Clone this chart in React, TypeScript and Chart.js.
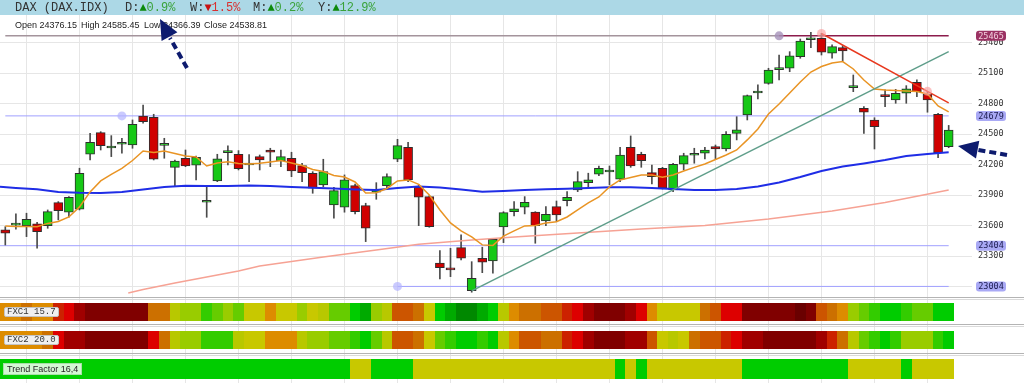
import React, { useEffect, useRef } from "react";
import { Chart, registerables } from "chart.js";

Chart.register(...registerables);

// ---------- data ----------
const opens = [23559,23606,23601,23618,23601,23827,23733,23762,24302,24514, 24364,24400,24393,24678,24665,24390,24174,24263,24194,23831, 24040,24318,24302,24197,24279,24344,24236,24263,24190,24116, 24001,23804,23782,23994,23797,23929,23994,24253,24371,23978, 23886,23232,23183,23385,22963,23281,23254,23588,23738,23782, 23733,23647,23788,23847,23952,24023,24106,24128,24057,24371, 24302,24122,24165,23952,24204,24292,24312,24377,24354,24508, 24688,24904,24999,25133,25147,25261,25427,25441,25294,25349, 24957,24754,24639,24884,24835,24901,25008,24894,24695,24376.15];
const highs = [23591,23716,23723,23634,23755,23837,23886,24165,24508,24524, 24485,24459,24639,24786,24695,24459,24246,24344,24285,23984, 24302,24384,24338,24300,24295,24361,24344,24322,24214,24131, 24253,23978,24099,24010,23821,24023,24109,24449,24420,24001, 23896,23356,23379,23510,23247,23389,23477,23738,23837,23886, 23738,23788,23843,23935,24131,24116,24187,24187,24371,24482, 24322,24197,24174,24214,24312,24361,24371,24393,24524,24671, 24884,24983,25147,25277,25310,25434,25500,25490,25376,25369, 25081,24770,24661,24934,24940,24976,25032,24917,24705,24585.45];
const lows = [23411,23566,23493,23379,23575,23657,23683,23755,24246,24344, 24279,24312,24361,24607,24246,24263,23991,24180,24050,23683, 24033,24197,24148,24033,24148,24180,24180,24082,24033,23919, 23984,23674,23733,23716,23444,23860,23958,24229,24033,23601, 23585,23078,23100,23264,22947,23139,23134,23434,23696,23716, 23428,23601,23640,23795,23935,23978,24092,24001,24033,24174, 24174,24010,23961,23935,24148,24214,24256,24253,24334,24443, 24639,24845,24990,25032,25113,25245,25349,25277,25245,25218, 24917,24508,24354,24770,24803,24803,24868,24715,24269,24366.39];
const closes = [23526,23610,23664,23542,23738,23748,23880,24116,24420,24387, 24377,24406,24597,24622,24253,24400,24236,24187,24273,23837, 24256,24332,24161,24207,24246,24322,24279,24138,24121,23968, 24131,23945,24050,23738,23575,23958,24082,24387,24050,23880, 23591,23189,23166,23281,23084,23242,23467,23729,23765,23831, 23601,23713,23706,23880,24033,24050,24165,24134,24295,24187, 24239,24082,23968,24204,24288,24298,24344,24354,24498,24541, 24878,24911,25130,25140,25270,25415,25434,25304,25359,25317, 24963,24715,24573,24868,24901,24944,24917,24835,24318,24538.81];

// short moving average (orange), one value per candle
const fastMA = [23598,23593,23593,23591,23623,23642,23686,23785,23932,24040, 24104,24163,24241,24334,24320,24334,24310,24285,24276,24187, 24217,24229,24212,24207,24214,24227,24241,24217,24192,24153, 24133,24094,24079,24030,23922,23925,23966,24040,24050,24006, 23902,23755,23628,23549,23490,23412,23407,23498,23549,23598, 23603,23627,23640,23686,23755,23824,23883,23981,24050,24074, 24099,24099,24076,24099,24138,24173,24207,24251,24295,24344, 24443,24551,24698,24796,24904,25012,25110,25164,25199,25213, 25140,25032,24943,24934,24929,24924,24919,24894,24776,24718];

// medium moving average (blue), read at these candle positions
const midMAIdx = [-0.5,1,3,5,7,9,11,13,15,17,19,21,23,25,27,29,31,33,35,37,39,41,43,45,47,49,51,53,55,57,59,61,63,65,67,69,71,73,75,77,79,81,83,85,87,89];
const midMAVals = [23984,23971,23958,23932,23924,23922,23932,23957,23981,23993,23991,23991,23996,23991,23981,23974,23966,23957,23952,23971,23986,23976,23957,23935,23942,23952,23958,23963,23971,23978,23978,23971,23961,23952,23952,23961,23986,24025,24079,24138,24182,24212,24246,24285,24305,24322];

// long moving average (salmon)
const slowMAIdx = [11.6,13,16,20,22,24,30,35,39,44,48,54,60,66,72,78,83,89];
const slowMAVals = [22940,22974,23038,23117,23156,23205,23294,23362,23418,23461,23490,23529,23569,23603,23667,23745,23829,23952];

// horizontal levels
const levelTop = 25465;
const levelMid = 24679;
const levelLow1 = 23404;
const levelLow2 = 23004;

// trend lines [index, value]
const upTrendIdx = [44, 89];
const upTrendVals = [22960, 25310];
const downTrendIdx = [77, 87, 89];
const downTrendVals = [25488, 24920, 24806];

// axis ticks
const yTickValues = [23000, 23300, 23600, 23900, 24200, 24500, 24800, 25100, 25400];
const xGridIdx = [2, 7, 12, 17, 22, 27, 32, 37, 42, 47, 52, 57, 62, 67, 72, 77, 82, 87];

// indicator bands: level index into palette, one per candle
const fxc1Levels = [7,7,6,7,7,4,3,2,1,1, 1,1,1,1,6,6,9,10,10,12, 11,10,11,8,8,7,8,8,10,8, 9,11,11,13,14,10,9,5,5,6, 8,13,14,15,15,14,13,9,7,6, 6,5,5,4,3,2,1,1,1,2, 3,7,8,8,8,8,6,5,3,3, 1,1,1,1,1,0,1,5,6,7, 10,11,12,13,13,12,11,11,13,13];
const fxc2Levels = [7,7,7,7,6,3,2,2,1,1, 1,1,1,1,3,6,9,10,10,12, 12,12,9,8,8,7,7,7,9,10, 10,11,11,12,13,11,9,5,5,6, 8,11,12,13,13,12,13,9,7,5, 5,6,6,4,3,2,1,1,1,2, 2,5,8,9,8,6,5,5,4,3, 2,2,1,1,1,1,1,2,4,6, 9,11,12,13,12,10,10,10,12,13];
const trendLevels = [13,13,13,13,13,13,13,13,13,13, 13,13,13,13,13,13,13,13,13,13, 13,13,13,13,13,13,13,13,13,13, 13,13,13,8,8,13,13,13,13,8, 8,8,8,8,8,8,8,8,8,8, 8,8,8,8,8,8,8,8,13,8, 13,8,8,8,8,8,8,8,8,8, 13,13,13,13,13,13,13,13,13,13, 8,8,8,8,8,13,8,8,8,8];
const fxcLabels = ["FXC1 15.7", "FXC2 20.0"];
const trendLabel = "Trend Factor 16,4";

// header
const symbolTitle = "DAX (DAX.IDX)";
const periodNames = ["D", "W", "M", "Y"];
const periodChanges = [0.9, -1.5, 0.2, 12.9];
const ohlcNames = ["Open", "High", "Low", "Close"];
const ohlcValues = ["24376.15", "24585.45", "24366.39", "24538.81"];

// ---------- styles ----------
const palette = ["#6a0000","#800000","#a00000","#dd0000","#cc2200","#cc5500","#cc7000","#dd8c00","#c8c800","#b8c800","#99cc00","#66cc00","#33cc00","#00cc00","#00aa00","#008800"];
const mono = '"Liberation Mono", "DejaVu Sans Mono", monospace';
const sans = '"Liberation Sans", Arial, sans-serif';
const periodX = [125, 190, 253, 318];
const ohlcX = [15, 81, 144, 204];

const decorPlugin = {
  id: "decor",
  beforeDraw(chart: any) {
    const ctx = chart.ctx;
    ctx.save();
    ctx.fillStyle = "#ffffff";
    ctx.fillRect(0, 0, chart.width, chart.height);
    ctx.fillStyle = "#acd8e6";
    ctx.fillRect(0, 0, chart.width, 15);
    ctx.restore();
  },
  afterDraw(chart: any) {
    const ctx = chart.ctx;
    const xs = chart.scales.x;
    const ys = chart.scales.y;
    ctx.save();
    ctx.strokeStyle = "#e6e6e6";
    ctx.lineWidth = 1;
    xGridIdx.forEach((v) => {
      const px = Math.round(xs.getPixelForValue(v)) + 0.5;
      ctx.beginPath();
      ctx.moveTo(px, 297);
      ctx.lineTo(px, chart.height);
      ctx.stroke();
    });
    const seps: [number, string][] = [[297.5, "#b4b4b4"], [299.5, "#dadada"], [324.5, "#b4b4b4"], [326.5, "#dadada"], [353.5, "#b4b4b4"], [355.5, "#dadada"]];
    seps.forEach(([y, c]) => {
      ctx.strokeStyle = c;
      ctx.beginPath();
      ctx.moveTo(0, y);
      ctx.lineTo(chart.width, y);
      ctx.stroke();
    });
    const bands: [number[], number, number][] = [[fxc1Levels, 303, 18], [fxc2Levels, 331, 18], [trendLevels, 359, 20]];
    bands.forEach(([lv, top, h]) => {
      lv.forEach((l, i) => {
        const x0 = Math.round(xs.getPixelForValue(i - 0.5));
        const x1 = Math.round(xs.getPixelForValue(i + 0.5));
        ctx.fillStyle = palette[l];
        ctx.fillRect(x0, top, x1 - x0, h);
      });
    });
    const tags: [number, string, string][] = [[levelTop, "#9b3263", "#f4d0de"], [levelMid, "#a9a9f5", "#1c1c50"], [levelLow1, "#a9a9f5", "#1c1c50"], [levelLow2, "#a9a9f5", "#1c1c50"]];
    ctx.font = '8.5px "DejaVu Sans Mono"';
    ctx.textAlign = "center";
    ctx.textBaseline = "middle";
    tags.forEach(([v, bg, fg]) => {
      const y = ys.getPixelForValue(v);
      ctx.fillStyle = bg;
      ctx.beginPath();
      (ctx as any).roundRect(976, y - 5, 30, 10, 3);
      ctx.fill();
      ctx.fillStyle = fg;
      ctx.fillText(String(v), 991, y + 0.5);
    });
    ctx.restore();
  },
};

export default function App() {
  const canvasRef = useRef<HTMLCanvasElement>(null);

  useEffect(() => {
    const canvas = canvasRef.current;
    if (!canvas) return;
    const idx = opens.map((_, i) => i);
    const bodyColors = idx.map((i) => (closes[i] >= opens[i] ? "#16c816" : "#d00000"));
    const line = (pts: { x: number; y: number }[], color: string, width: number, order: number, extra: any = {}) => ({
      type: "line",
      data: pts,
      borderColor: color,
      borderWidth: width,
      pointRadius: 0,
      tension: 0,
      order,
      ...extra,
    });

    const chart = new Chart(canvas, {
      type: "bar",
      data: {
        datasets: [
          line([{ x: 0, y: levelTop }, { x: 73, y: levelTop }], "#a4949c", 1.5, 8),
          line([{ x: 73, y: levelTop }, { x: 89, y: levelTop }], "#8c1c4c", 1.5, 7, {
            pointRadius: [4.5, 0], pointBackgroundColor: "rgba(165,145,185,0.8)", pointBorderWidth: 0,
          }),
          line([{ x: 0, y: levelMid }, { x: 11, y: levelMid }, { x: 89, y: levelMid }], "#a0a0ff", 1, 8, {
            pointRadius: [0, 4.5, 0], pointBackgroundColor: "rgba(180,180,255,0.7)", pointBorderWidth: 0,
          }),
          line([{ x: -0.5, y: levelLow1 }, { x: 89, y: levelLow1 }], "#a0a0ff", 1, 8),
          line([{ x: 37, y: levelLow2 }, { x: 89, y: levelLow2 }], "#a0a0ff", 1, 8, {
            pointRadius: [4.5, 0], pointBackgroundColor: "rgba(180,180,255,0.7)", pointBorderWidth: 0,
          }),
          {
            type: "bar",
            data: idx.map((i) => ({ x: i, y: [lows[i], highs[i]] })),
            backgroundColor: "#4a4a4a",
            borderWidth: 0,
            barThickness: 1,
            grouped: false,
            order: 6,
          },
          {
            type: "bar",
            data: idx.map((i) => ({ x: i, y: [opens[i], closes[i]] })),
            backgroundColor: bodyColors,
            borderColor: "#2e2e2e",
            borderWidth: 1,
            borderSkipped: false,
            barThickness: 9,
            minBarLength: 2,
            grouped: false,
            order: 5,
          },
          line(slowMAIdx.map((x, i) => ({ x, y: slowMAVals[i] })), "#f6a294", 1.5, 4),
          line(midMAIdx.map((x, i) => ({ x, y: midMAVals[i] })), "#1f2de6", 2, 3),
          line(idx.map((i) => ({ x: i, y: fastMA[i] })), "#e99424", 1.5, 2),
          line(upTrendIdx.map((x, i) => ({ x, y: upTrendVals[i] })), "#5f9e8a", 1.5, 1),
          line(downTrendIdx.map((x, i) => ({ x, y: downTrendVals[i] })), "#e8381e", 1.5, 0, {
            pointRadius: [4.5, 4.5, 0], pointBackgroundColor: "rgba(250,160,160,0.65)", pointBorderWidth: 0,
          }),
        ] as any,
      },
      options: {
        responsive: false,
        animation: false,
        devicePixelRatio: 1,
        events: [],
        layout: { autoPadding: false, padding: { left: 0, right: 0, top: 15, bottom: 86 } },
        plugins: { legend: { display: false }, tooltip: { enabled: false } },
        scales: {
          x: {
            type: "linear",
            min: -0.5,
            max: 91.2,
            offset: false,
            grid: { color: "#e6e6e6", drawTicks: false, offset: false },
            border: { display: false },
            ticks: { display: false },
            afterBuildTicks: (s: any) => {
              s.ticks = xGridIdx.map((v) => ({ value: v }));
            },
            afterFit: (s: any) => {
              s.height = 0;
            },
          },
          y: {
            type: "linear",
            position: "right",
            min: 22900,
            max: 25670,
            grid: { color: "#e6e6e6", drawTicks: false },
            border: { display: false },
            ticks: {
              font: { family: "DejaVu Sans Mono", size: 8.5 },
              color: "#333333",
              padding: 6,
              autoSkip: false,
              callback: (v: any) => String(v),
            },
            afterBuildTicks: (s: any) => {
              s.ticks = yTickValues.map((v) => ({ value: v }));
            },
            afterFit: (s: any) => {
              s.width = 52;
            },
          },
        },
      } as any,
      plugins: [decorPlugin],
    });
    return () => chart.destroy();
  }, []);

  return (
    <div style={{ position: "fixed", left: 0, top: 0, width: 1024, height: 383, overflow: "hidden", background: "#fff" }}>
      <canvas ref={canvasRef} width={1024} height={383} style={{ position: "absolute", left: 0, top: 0, width: 1024, height: 383 }} />
      <span style={{ position: "absolute", left: 15, top: 2, font: `12px ${mono}`, lineHeight: "12px", color: "#333", whiteSpace: "pre" }}>{symbolTitle}</span>
      {periodNames.map((n, i) => {
        const up = periodChanges[i] >= 0;
        return (
          <span key={n} style={{ position: "absolute", left: periodX[i], top: 2, font: `12px ${mono}`, lineHeight: "12px", color: "#333", whiteSpace: "pre" }}>
            {n + ":"}
            <span style={{ color: up ? "#0c8a0c" : "#c81414" }}>{up ? "▲" : "▼"}</span>
            <span style={{ color: up ? "#3aa23a" : "#d83030" }}>{Math.abs(periodChanges[i]).toFixed(1) + "%"}</span>
          </span>
        );
      })}
      {ohlcNames.map((n, i) => (
        <span key={n} style={{ position: "absolute", left: ohlcX[i], top: 20, font: `9px ${sans}`, lineHeight: "10px", color: "#222", whiteSpace: "pre" }}>
          {n + " " + ohlcValues[i]}
        </span>
      ))}
      {fxcLabels.map((t, i) => (
        <span key={t} style={{ position: "absolute", left: 4, top: 307 + i * 28, height: 8, font: `9px ${mono}`, lineHeight: "8px", padding: "0 2px", color: "#333", background: "#f0f0f0", border: "1px solid #c4c4c4", borderRadius: 2, whiteSpace: "pre" }}>
          {t}
        </span>
      ))}
      <span style={{ position: "absolute", left: 3, top: 363, height: 10, font: `9px ${sans}`, lineHeight: "10px", padding: "0 3px", color: "#222", background: "#d4f7d4", border: "1px solid #a8e0a8", whiteSpace: "pre" }}>
        {trendLabel}
      </span>
      <svg width={1024} height={383} style={{ position: "absolute", left: 0, top: 0, pointerEvents: "none" }}>
        <line x1={187} y1={68} x2={170} y2={38} stroke="#0d1b6e" strokeWidth={4} strokeDasharray="7 4" />
        <polygon points="160,19 177.4,32.3 161.6,40.9" fill="#0d1b6e" />
        <line x1={1007} y1={155} x2={977} y2={149.7} stroke="#0d1b6e" strokeWidth={4} strokeDasharray="7 4" />
        <polygon points="958,146 979.3,140.8 976,158.5" fill="#0d1b6e" />
      </svg>
    </div>
  );
}
